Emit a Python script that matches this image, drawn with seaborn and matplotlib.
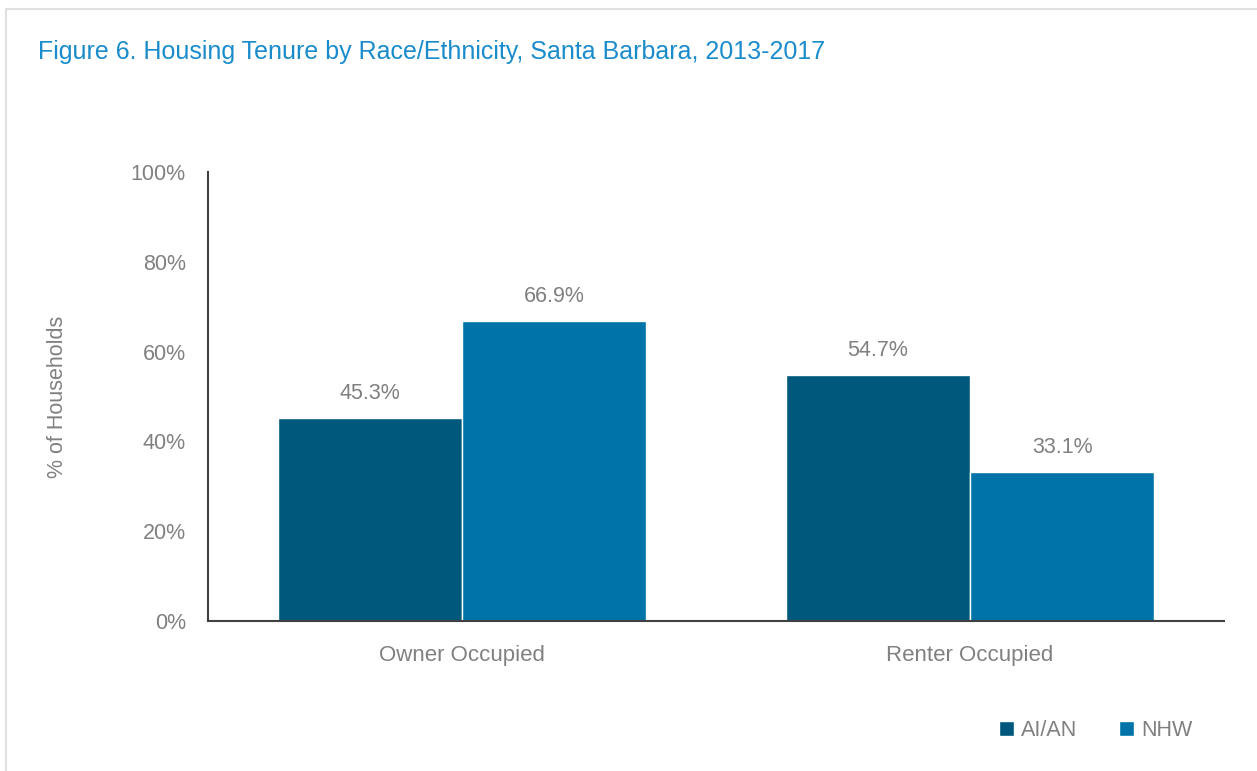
import matplotlib
matplotlib.use("Agg")
import matplotlib.pyplot as plt
import seaborn as sns
import pandas as pd
from matplotlib.patches import Rectangle, Patch

tenure = ["Owner Occupied", "Renter Occupied"]
groups = ["AI/AN", "NHW"]
aian_pct = [45.3, 54.7]
nhw_pct = [66.9, 33.1]
y_ticks = [0, 20, 40, 60, 80, 100]

TITLE = "Figure 6. Housing Tenure by Race/Ethnicity, Santa Barbara, 2013-2017"
COLORS = ["#00587C", "#0074A8"]
GRAY = "#808080"

df = pd.DataFrame({
    "tenure": tenure * 2,
    "group": [groups[0]] * 2 + [groups[1]] * 2,
    "pct": aian_pct + nhw_pct,
})

sns.set_style("white")
plt.rcParams["font.family"] = ["Liberation Sans Narrow", "Liberation Sans", "DejaVu Sans"]

fig = plt.figure(figsize=(12.57, 7.71), dpi=100)
ax = fig.add_axes([0.1655, 0.1946, 0.8083, 0.5823])

# light frame around the figure
fig.patches.append(Rectangle((6 / 1257, -0.1), 1.2, 1 - 9 / 771 + 0.1,
                             transform=fig.transFigure, fill=False,
                             edgecolor="#e0e0e0", linewidth=1.5))

sns.barplot(data=df, x="tenure", y="pct", hue="group", palette=COLORS,
            width=0.726, saturation=1, ax=ax, legend=False)

for cont in ax.containers:
    ax.bar_label(cont, labels=[f"{v:.1f}%" for v in cont.datavalues],
                 padding=10, fontsize=15.5, color=GRAY)

ax.set_xlim(-0.5, 1.5)
ax.set_ylim(0, 100)
ax.set_yticks(y_ticks)
ax.set_yticklabels([f"{t}%" for t in y_ticks])
ax.tick_params(axis="y", labelsize=15.5, labelcolor=GRAY, length=0, pad=16)
ax.tick_params(axis="x", labelsize=16, labelcolor=GRAY, length=0, pad=17)
ax.set_xlabel("")
ax.set_ylabel("% of Households", fontsize=15.5, color=GRAY)
ax.yaxis.set_label_coords(-0.1378, 0.5)

for side in ["top", "right"]:
    ax.spines[side].set_visible(False)
for side in ["left", "bottom"]:
    ax.spines[side].set_color("#404040")
    ax.spines[side].set_linewidth(1.5)

handles = [Patch(facecolor=c, label=g) for c, g in zip(COLORS, groups)]
fig.legend(handles=handles, loc="center right", bbox_to_anchor=(0.964, 0.053),
           ncol=2, frameon=False, fontsize=15.5, labelcolor=GRAY,
           handlelength=0.7, handleheight=0.7, handletextpad=0.35,
           columnspacing=1.9)

fig.text(38 / 1257, 1 - 52 / 771, TITLE, fontsize=18, color="#1A8CCB",
         va="center", ha="left")

fig.savefig("out.png", dpi=100)
